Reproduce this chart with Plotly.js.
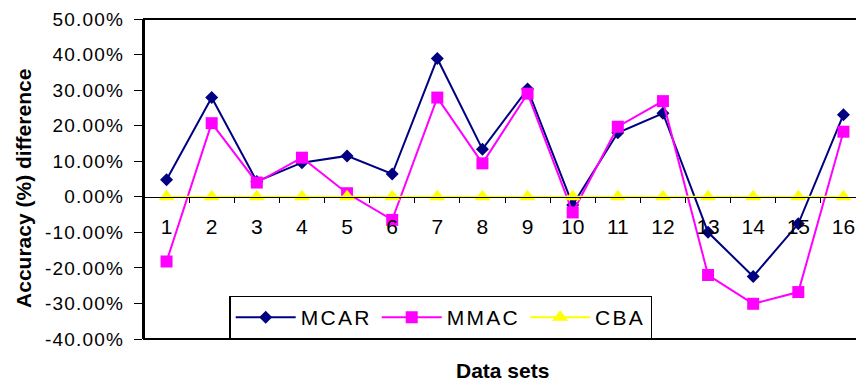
<!DOCTYPE html>
<html>
<head>
<meta charset="utf-8">
<script src="https://cdn.plot.ly/plotly-3.0.1.min.js"></script>
<style>
  html, body { margin: 0; padding: 0; overflow: hidden; background: #fff; }
  #chart { width: 880px; height: 382px; }
  .ytick text { letter-spacing: 1.2px; }
  .legendtext { letter-spacing: 2.3px; }
</style>
</head>
<body>
<div id="chart"></div>
<script>
const categories = ['1','2','3','4','5','6','7','8','9','10','11','12','13','14','15','16'];
const mcar = [4.8, 27.9, 4.3, 9.6, 11.5, 6.4, 38.9, 13.4, 30.3, -2.3, 18.0, 23.5, -10.0, -22.4, -7.6, 23.1];
const mmac = [-18.2, 20.7, 4.0, 11.0, 1.0, -6.5, 27.9, 9.4, 29.0, -4.4, 19.7, 26.9, -22.0, -30.1, -26.8, 18.3];
const cba  = [0, 0, 0, 0, 0, 0, 0, 0, 0, 0, 0, 0, 0, 0, 0, 0];
const seriesNames = ['MCAR', 'MMAC', 'CBA'];
const yTicks = [-40, -30, -20, -10, 0, 10, 20, 30, 40, 50];
const yTickText = yTicks.map(v => v.toFixed(2) + '%');

const font = 'Arial, "Liberation Sans", sans-serif';

const traces = [
  {x: categories, y: mcar, name: seriesNames[0], type: 'scatter', mode: 'lines+markers',
   line: {color: '#000080', width: 2}, marker: {symbol: 'diamond', size: 10, color: '#000080'}},
  {x: categories, y: mmac, name: seriesNames[1], type: 'scatter', mode: 'lines+markers',
   line: {color: '#FF00FF', width: 2}, marker: {symbol: 'square', size: 12, color: '#FF00FF'}},
  {x: categories, y: cba, name: seriesNames[2], type: 'scatter', mode: 'lines+markers',
   line: {color: '#FFFF00', width: 2}, marker: {symbol: 'triangle-up', size: 14, color: '#FFFF00'}}
];

const layout = {
  width: 880, height: 382,
  margin: {l: 143.5, r: 13.5, t: 19, b: 42.5},
  paper_bgcolor: '#fff', plot_bgcolor: '#fff',
  font: {family: font, color: '#000'},
  showlegend: true,
  legend: {
    orientation: 'h', x: 0.118, y: 0.1356, xanchor: 'left', yanchor: 'top',
    bordercolor: '#000', borderwidth: 1.5, bgcolor: '#fff',
    font: {family: font, size: 21, color: '#000'},
    itemwidth: 60, traceorder: 'normal', tracegroupgap: 0
  },
  xaxis: {
    type: 'category', categoryorder: 'array', categoryarray: categories,
    range: [-0.5, 15.5], anchor: 'free', position: 40/90,
    showline: true, linecolor: '#000', linewidth: 1,
    ticks: 'outside', tickson: 'boundaries', ticklen: 5, tickcolor: '#000', tickwidth: 1,
    tickfont: {family: font, size: 21, color: '#000'},
    ticklabelstandoff: 11,
    showgrid: false, zeroline: false, fixedrange: true
  },
  yaxis: {
    range: [-40, 50], tickmode: 'array', tickvals: yTicks, ticktext: yTickText,
    showline: true, linecolor: '#000', linewidth: 2,
    ticks: 'outside', ticklen: 8, tickcolor: '#000', tickwidth: 1,
    tickfont: {family: font, size: 19, color: '#000'},
    ticklabelstandoff: 6,
    showgrid: false, zeroline: false, fixedrange: true
  },
  shapes: [
    {type: 'rect', xref: 'paper', yref: 'paper', x0: 0, x1: 1, y0: 0, y1: 1,
     line: {color: '#000', width: 2}, layer: 'below'}
  ],
  annotations: [
    {text: '<b>Data sets</b>', xref: 'paper', yref: 'paper', x: 0.496, y: -0.098,
     xanchor: 'center', yanchor: 'middle', showarrow: false,
     font: {family: font, size: 21, color: '#000'}},
    {text: '<b>Accuracy (%) difference</b>', xref: 'paper', yref: 'paper', x: -0.1667, y: 0.471,
     xanchor: 'center', yanchor: 'middle', textangle: -90, showarrow: false,
     font: {family: font, size: 21, color: '#000'}}
  ]
};

Plotly.newPlot('chart', traces, layout, {displayModeBar: false, staticPlot: true});
</script>
</body>
</html>
